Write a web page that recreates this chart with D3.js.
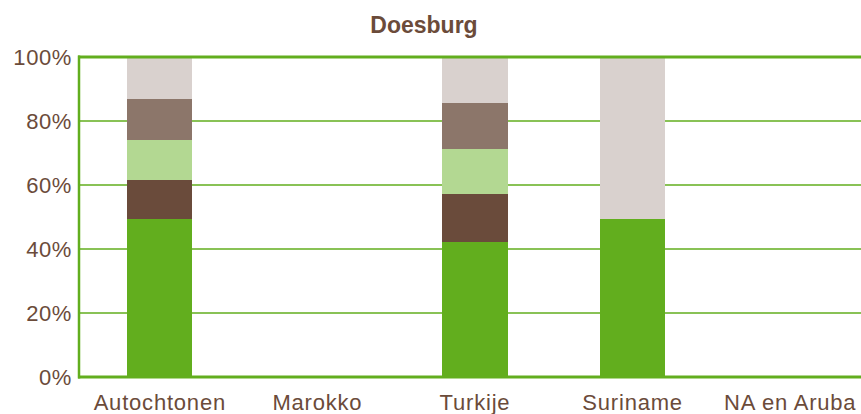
<!DOCTYPE html>
<html><head><meta charset="utf-8">
<script src="https://cdn.jsdelivr.net/npm/d3@7"></script>
<style>html,body{margin:0;padding:0;background:#fff;overflow:hidden}</style>
</head><body>
<svg id="c" width="861" height="414"></svg>
<script>
const title = "Doesburg";
const categories = ["Autochtonen", "Marokko", "Turkije", "Suriname", "NA en Aruba"];
const seriesNames = ["s1", "s2", "s3", "s4", "s5"];
const s1 = [0.494, 0, 0.422, 0.494, 0];
const s2 = [0.122, 0, 0.150, 0, 0];
const s3 = [0.125, 0, 0.141, 0, 0];
const s4 = [0.128, 0, 0.144, 0, 0];
const s5 = [0.131, 0, 0.143, 0.506, 0];
const seriesColors = ["#62AE1E", "#6A4B3B", "#B3D892", "#8C766A", "#D9D1CE"];
const yTicks = [0, 0.2, 0.4, 0.6, 0.8, 1.0];

const svg = d3.select("#c");
const textColor = "#6B4B3A";
const green = "#62AE1E";
const font = "'Liberation Sans', Arial, sans-serif";

const x = d3.scaleBand().domain(categories).range([81, 869]).paddingInner(0.587).paddingOuter(0.2935);
const y = d3.scaleLinear().domain([0, 1]).range([377, 57]);

const rows = categories.map((c, i) => ({cat: c, s1: s1[i], s2: s2[i], s3: s3[i], s4: s4[i], s5: s5[i]}));
const stacked = d3.stack().keys(seriesNames)(rows);

// gridlines
svg.append("g").selectAll("line").data(yTicks.filter(t => t > 0 && t < 1)).join("line")
  .attr("x1", 79).attr("x2", 861)
  .attr("y1", d => y(d)).attr("y2", d => y(d))
  .attr("stroke", green).attr("stroke-width", 1.5);

// bars
svg.append("g").selectAll("g").data(stacked).join("g")
  .attr("fill", (d, i) => seriesColors[i])
  .selectAll("rect").data(d => d).join("rect")
  .attr("x", d => x(d.data.cat))
  .attr("width", x.bandwidth())
  .attr("y", d => y(d[1]))
  .attr("height", d => Math.max(0, y(d[0]) - y(d[1])))
  .attr("shape-rendering", "crispEdges");

// frame lines
svg.append("line").attr("x1", 78).attr("x2", 861).attr("y1", y(1)).attr("y2", y(1)).attr("stroke", green).attr("stroke-width", 3);
svg.append("line").attr("x1", 78).attr("x2", 861).attr("y1", y(0)).attr("y2", y(0)).attr("stroke", green).attr("stroke-width", 3);
svg.append("line").attr("x1", 79).attr("x2", 79).attr("y1", y(1) - 1.5).attr("y2", y(0) + 1.5).attr("stroke", green).attr("stroke-width", 2.5);

// y axis
const yAxis = d3.axisLeft(y).tickValues(yTicks).tickFormat(d3.format(".0%")).tickSize(0).tickPadding(7);
const ya = svg.append("g").attr("transform", "translate(79,0)").call(yAxis);
ya.select(".domain").remove();
ya.selectAll("text").attr("fill", textColor).attr("font-family", font).attr("font-size", 22).attr("letter-spacing", 0.6);

// x axis
const xAxis = d3.axisBottom(x).tickSize(0).tickPadding(17);
const xa = svg.append("g").attr("transform", "translate(0," + y(0) + ")").call(xAxis);
xa.select(".domain").remove();
xa.selectAll("text").attr("fill", textColor).attr("font-family", font).attr("font-size", 22).attr("letter-spacing", 0.8);

// title
svg.append("text").attr("x", 424).attr("y", 33).attr("text-anchor", "middle")
  .attr("fill", textColor).attr("font-family", font)
  .attr("font-weight", "bold").attr("font-size", 23).text(title);
</script>
</body></html>
